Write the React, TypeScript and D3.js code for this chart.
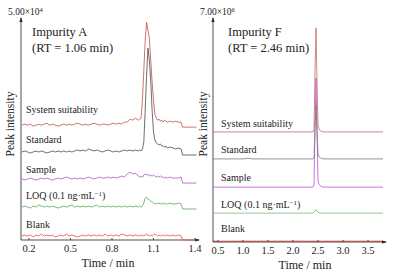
import React from 'react';
import * as d3 from 'd3';

// ---------- Panel A : Impurity A ----------
const timeA = [
  0.15, 0.17, 0.19, 0.21, 0.23, 0.25, 0.27, 0.29, 0.31, 0.33, 0.35, 0.37, 0.39, 0.41, 0.43,
  0.45, 0.47, 0.49, 0.51, 0.53, 0.55, 0.57, 0.59, 0.61, 0.63, 0.65, 0.67, 0.69, 0.71, 0.73,
  0.75, 0.77, 0.79, 0.81, 0.83, 0.85, 0.87, 0.89, 0.91, 0.93, 0.95, 0.97, 0.99,
  1.0, 1.01, 1.02, 1.03, 1.04, 1.05, 1.06, 1.07, 1.08, 1.09, 1.1, 1.11, 1.12, 1.13, 1.14,
  1.15, 1.16, 1.17, 1.18, 1.19, 1.2,
  1.22, 1.24, 1.26, 1.28, 1.3, 1.31, 1.41,
];
const ssA = [
  0, 230, 0, 230, -230, 0, 230, 0, 230, 450, 0, 230, 0, -230, 0, 230, 0, 230, 0, 230, 450, 230,
  0, 230, 0, 230, 450, 230, 0, 230, 230, 0, 230, 450, 230, 450, 230, 680, 680, 1360, 1140, 1590, 1140,
  1360, 1590, 5680, 12490, 19300, 23380, 21570, 19750, 14760, 9760, 5680, 2500, 1590, 1140, 1360,
  910, 1140, 680, 1140, 910, 680,
  910, 680, 910, 680, 680, -450, -450,
];
const stdA = [
  0, 230, 0, -230, 0, 230, 0, 230, 0, -230, 0, 230, 0, 230, 0, 230, 0, 230, 0, 230, 450, 230,
  450, 230, 680, 450, 230, 450, 230, 0, 230, 450, 230, 0, 230, 0, 230, 450, 230, 450, 230, 450, 230,
  450, 230, 680, 2270, 9530, 17480, 23610, 20880, 16340, 9530, 4540, 2720, 2040, 1820, 1590,
  1820, 1360, 1360, 1140, 1360, 910,
  1140, 910, 680, 910, 680, -680, -680,
];
const sampleA = [
  0, -230, 0, 230, 0, -230, 0, 230, 0, 230, 0, -230, 0, 230, 0, 230, 450, 230, 0, 230, 0, 230,
  0, 230, 450, 230, 0, 230, 450, 230, 230, 450, 230, 450, 230, 450, 680, 450, 1140, 1590, 1140, 1360, 680,
  450, 680, 450, 910, 1140, 910, 1140, 680, 910, 680, 910, 680, 450, 680, 450,
  680, 450, 450, 230, 450, 230,
  450, 230, 230, 230, 450, -910, -910,
];
const loqA = [
  0, 230, 0, -230, 230, 0, 450, 230, 0, 230, 0, 230, 0, -230, 0, 230, 0, 230, 450, 0, 230, 0,
  230, 0, 230, 0, 230, 450, 0, 230, 0, 230, 0, 230, 0, 230, 0, 230, 0, 230, 0, 230, 0,
  230, 0, 230, 910, 2040, 2270, 1820, 1590, 1360, 1140, 910, 680, 910, 680, 910,
  680, 910, 680, 910, 680, 680,
  910, 680, 680, 910, 680, -450, -450,
];
const blankA = [
  0, 230, 0, 230, -230, 230, 0, 450, 0, 230, 0, 230, -230, 0, 230, 0, 450, 0, 230, 0, -230, 0,
  230, 0, 230, 0, 230, 0, 230, 0, 450, 0, 230, 0, 230, 0, 450, 230, 0, 230, 0, 230, 0,
  230, 0, 230, 0, 230, 450, 230, 0, 230, 0, 230, 450, 230, 0, 230,
  0, 230, 0, 230, 0, 230,
  0, 230, 0, 230, 0, -910, -910,
];
const offsetsA = [26100, 20000, 13850, 7490, 910];
const ticksA = [0.2, 0.5, 0.8, 1.1, 1.4];

// ---------- Panel F : Impurity F ----------
const timeF = [
  0.4, 0.5, 0.6, 0.7, 0.8, 0.9, 1.0, 1.1, 1.2, 1.3, 1.4, 1.5, 1.6, 1.7, 1.8, 1.9, 2.0, 2.1, 2.2, 2.3,
  2.36, 2.4, 2.42, 2.44, 2.46, 2.48, 2.5, 2.52, 2.55, 2.6,
  2.7, 2.8, 2.9, 3.0, 3.1, 3.2, 3.3, 3.4, 3.5, 3.6, 3.7, 3.8,
];
const ssF = [
  0, 0, 0, 0, 0, 0, 0, 0, 0, 0, 0, 0, 0, 0, 0, 0, 0, 0, 0, 0,
  0, 0, 63000, 1890000, 3280000, 1580000, 190000, 95000, 32000, 0,
  0, 0, 0, 0, 0, 0, 0, 0, 0, 0, 0, 0,
];
const stdF = [
  0, 0, 0, 0, 0, 0, 0, 20000, 0, 0, 0, 0, 0, 0, 0, 0, 0, 0, 0, 0,
  0, 0, 32000, 950000, 1700000, 880000, 160000, 63000, 32000, 0,
  0, 0, 0, 0, 0, 0, 0, 0, 0, 0, 0, 0,
];
const sampleF = [
  0, 0, 0, 0, 0, 0, 0, 0, 0, 0, 0, 0, 0, 0, 0, 0, 0, 0, 0, 0,
  0, 0, 63000, 1890000, 3440000, 1730000, 190000, 95000, 32000, 0,
  0, 0, 0, 0, 0, 0, 0, 0, 0, 0, 0, 0,
];
const loqF = [
  0, 0, 0, 0, 0, 0, 0, 0, 0, 0, 0, 0, 0, 0, 0, 0, 0, 0, 0, 0,
  0, 0, 32000, 63000, 110000, 63000, 32000, 16000, 0, 0,
  0, 0, 0, 0, 0, 0, 0, 0, 0, 0, 0, 0,
];
const blankF = [
  0, 0, 0, 0, 0, 0, 0, 0, 0, 0, 0, 0, 0, 0, 0, 0, 0, 0, 0, 0,
  0, 0, 0, 0, 0, 0, 0, 0, 0, 0,
  0, 0, 0, 0, 0, 0, 0, 0, 0, 0, 0, 0,
];
const offsetsF = [3470000, 2620000, 1730000, 910000, 25000];
const ticksF = [0.5, 1.0, 1.5, 2.0, 2.5, 3.0, 3.5];

const traceNames = ['System suitability', 'Standard', 'Sample', 'LOQ', 'Blank'];
const colorsA = ['#c0504d', '#4a4a4a', '#a858c8', '#5aa55a', '#f04848'];
const colorsF = ['#c46a6a', '#7a7a7a', '#c050d8', '#78bc78', '#b82020'];

const FONT = '"Liberation Serif", "Times New Roman", serif';

type PanelProps = {
  time: number[];
  series: number[][];
  offsets: number[];
  colors: string[];
  ticks: number[];
  xDomain: [number, number];
  xRange: [number, number];
  yMax: number;
  yRange: [number, number];
  axisX0: number;
  axisX1: number;
  topLabel: React.ReactNode;
  topLabelX: number;
  title: string;
  rt: string;
  titleX: number;
  labelX: number;
  labelYs: number[];
  ylabelX: number;
  xlabelX: number;
};

function Panel(p: PanelProps) {
  const x = d3.scaleLinear().domain(p.xDomain).range(p.xRange);
  const y = d3.scaleLinear().domain([0, p.yMax]).range(p.yRange);
  const yAxisBottom = p.yRange[0];
  const yTop = p.yRange[1] - 2;
  const order = [4, 3, 2, 1, 0];
  return (
    <g>
      {/* axes */}
      <line x1={p.axisX0} x2={p.axisX0} y1={yAxisBottom} y2={yTop} stroke="#222" strokeWidth={0.8} />
      <path d={`M${p.axisX0 - 1.6},${yTop + 4} L${p.axisX0},${yTop - 1} L${p.axisX0 + 1.6},${yTop + 4} Z`} fill="#222" />
      <line x1={p.axisX0} x2={p.axisX1} y1={yAxisBottom} y2={yAxisBottom} stroke="#222" strokeWidth={0.8} />
      <path
        d={`M${p.axisX1 - 4},${yAxisBottom - 1.6} L${p.axisX1 + 1},${yAxisBottom} L${p.axisX1 - 4},${yAxisBottom + 1.6} Z`}
        fill="#222"
      />
      {p.ticks.map((t) => (
        <g key={t}>
          <line x1={x(t)} x2={x(t)} y1={yAxisBottom} y2={yAxisBottom - 2} stroke="#222" strokeWidth={0.8} />
          <text x={x(t)} y={yAxisBottom + 12} textAnchor="middle" fontSize={10.5} fontFamily={FONT} fill="#222">
            {t.toFixed(1)}
          </text>
        </g>
      ))}
      {order.map((i) => {
        const line = d3
          .line<number>()
          .x((_, k) => x(p.time[k]))
          .y((v) => y(v + p.offsets[i]))
          .curve(d3.curveLinear);
        return (
          <path
            key={i}
            d={line(p.series[i]) || ''}
            fill="none"
            stroke={p.colors[i]}
            strokeWidth={0.8}
            strokeLinejoin="round"
          />
        );
      })}
      <text x={p.xlabelX} y={yAxisBottom + 27} textAnchor="middle" fontSize={12} fontFamily={FONT} fill="#222">
        Time / min
      </text>
      <text
        transform={`translate(${p.ylabelX},124) rotate(-90)`}
        textAnchor="middle"
        fontSize={11.5}
        fontFamily={FONT}
        fill="#222"
      >
        Peak intensity
      </text>
      <text x={p.topLabelX} y={15} fontSize={9.5} fontFamily={FONT} fill="#222">
        {p.topLabel}
      </text>
      <text x={p.titleX} y={36} fontSize={12.5} fontFamily={FONT} fill="#222">
        {p.title}
      </text>
      <text x={p.titleX} y={52} fontSize={12.5} fontFamily={FONT} fill="#222">
        {p.rt}
      </text>
      {traceNames.map((n, i) => (
        <text key={n} x={p.labelX} y={p.labelYs[i]} fontSize={10} fontFamily={FONT} fill="#222">
          {i === 3 ? (
            <>
              LOQ (0.1 ng·mL
              <tspan dy={-3.5} fontSize={7}>
                −1
              </tspan>
              <tspan dy={3.5}>)</tspan>
            </>
          ) : (
            n
          )}
        </text>
      ))}
    </g>
  );
}

export default function App() {
  return (
    <svg
      width={407}
      height={272}
      style={{ position: 'absolute', left: 0, top: 0, background: '#fff' }}
    >
      <Panel
        time={timeA}
        series={[ssA, stdA, sampleA, loqA, blankA]}
        offsets={offsetsA}
        colors={colorsA}
        ticks={ticksA}
        xDomain={[0.2, 1.4]}
        xRange={[29, 195]}
        yMax={50000}
        yRange={[240, 20]}
        axisX0={21}
        axisX1={199}
        topLabel={
          <>
            5.00×10<tspan dy={-3.5} fontSize={6.5}>4</tspan>
          </>
        }
        topLabelX={8}
        title="Impurity A"
        rt="(RT = 1.06 min)"
        titleX={32}
        labelX={26}
        labelYs={[113, 143, 173, 199, 228]}
        ylabelX={14}
        xlabelX={108}
      />
      <Panel
        time={timeF}
        series={[ssF, stdF, sampleF, loqF, blankF]}
        offsets={offsetsF}
        colors={colorsF}
        ticks={ticksF}
        xDomain={[0.5, 3.5]}
        xRange={[218, 368]}
        yMax={7000000}
        yRange={[242, 20]}
        axisX0={213}
        axisX1={386}
        topLabel={
          <>
            7.00×10<tspan dy={-3.5} fontSize={6.5}>6</tspan>
          </>
        }
        topLabelX={200}
        title="Impurity F"
        rt="(RT = 2.46 min)"
        titleX={228}
        labelX={221}
        labelYs={[127, 153, 181, 208, 232]}
        ylabelX={207}
        xlabelX={305}
      />
    </svg>
  );
}
